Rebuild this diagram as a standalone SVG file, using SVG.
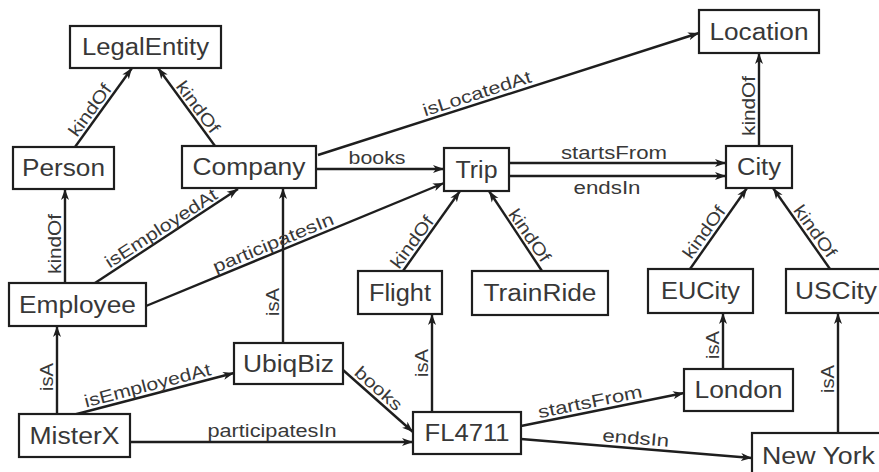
<svg xmlns="http://www.w3.org/2000/svg" width="879" height="472" viewBox="0 0 879 472">
<style>
.n rect{fill:#fff;stroke:#1e1e1e;stroke-width:2.2}
.n text{font-family:"Liberation Sans",Arial,sans-serif;font-size:23px;fill:#383838;text-anchor:middle}
.e path{fill:none;stroke:#1e1e1e;stroke-width:2.4;marker-end:url(#ah)}
.l{font-family:"Liberation Sans",Arial,sans-serif;font-size:17.5px;fill:#383838;text-anchor:middle}
</style>
<defs>
<marker id="ah" markerUnits="userSpaceOnUse" markerWidth="11" markerHeight="9" viewBox="0 0 11 9" refX="11" refY="4.5" orient="auto">
<path d="M0,0.5 L11,4.5 L0,8.5 L3,4.5 z" fill="#1e1e1e"/>
</marker>
</defs>
<rect width="879" height="472" fill="#fff"/>
<g id="connectors" class="e">
<path d="M75,147 L132,68"/>
<path d="M215,146 L158,68"/>
<path d="M65,283 L65,189"/>
<path d="M95,283 L238,189"/>
<path d="M146,306 L444,183"/>
<path d="M316,169 L444,169"/>
<path d="M318,155 L699,33"/>
<path d="M509,163 L726,163"/>
<path d="M509,176 L726,176"/>
<path d="M759,146 L759,53"/>
<path d="M403,271 L460,191"/>
<path d="M542,271 L489,191"/>
<path d="M690,269 L747,188"/>
<path d="M830,269 L773,188"/>
<path d="M283,343 L283,188"/>
<path d="M57,414 L57,326"/>
<path d="M73,415 L234,373"/>
<path d="M130,442 L413,442"/>
<path d="M343,370 L413,432"/>
<path d="M432,412 L432,314"/>
<path d="M521,426 L684,393"/>
<path d="M521,439 L752,458"/>
<path d="M723,369 L723,313"/>
<path d="M838,433 L838,313"/>
</g>
<g id="edge-labels">
<text class="l" transform="translate(98,116) rotate(-53.8)" y="-4" textLength="60" lengthAdjust="spacingAndGlyphs">kindOf</text>
<text class="l" transform="translate(190,113) rotate(53.1)" y="-4" textLength="60" lengthAdjust="spacingAndGlyphs">kindOf</text>
<text class="l" transform="translate(65,244) rotate(-90)" y="-4" textLength="60" lengthAdjust="spacingAndGlyphs">kindOf</text>
<text class="l" transform="translate(166.5,236.5) rotate(-33)" y="-4" textLength="130" lengthAdjust="spacingAndGlyphs">isEmployedAt</text>
<text class="l" transform="translate(277,252) rotate(-22.4)" y="-4" textLength="129" lengthAdjust="spacingAndGlyphs">participatesIn</text>
<text class="l" x="377" y="164" textLength="57" lengthAdjust="spacingAndGlyphs">books</text>
<text class="l" transform="translate(480,103) rotate(-17.8)" y="-4" textLength="113" lengthAdjust="spacingAndGlyphs">isLocatedAt</text>
<text class="l" x="614" y="159" textLength="106" lengthAdjust="spacingAndGlyphs">startsFrom</text>
<text class="l" x="607" y="194" textLength="67" lengthAdjust="spacingAndGlyphs">endsIn</text>
<text class="l" transform="translate(759,106) rotate(-90)" y="-4" textLength="60" lengthAdjust="spacingAndGlyphs">kindOf</text>
<text class="l" transform="translate(420,248) rotate(-53.5)" y="-4" textLength="60" lengthAdjust="spacingAndGlyphs">kindOf</text>
<text class="l" transform="translate(521.5,241) rotate(55.5)" y="-4" textLength="60" lengthAdjust="spacingAndGlyphs">kindOf</text>
<text class="l" transform="translate(712,238) rotate(-54.2)" y="-4" textLength="60" lengthAdjust="spacingAndGlyphs">kindOf</text>
<text class="l" transform="translate(807,237) rotate(54.2)" y="-4" textLength="60" lengthAdjust="spacingAndGlyphs">kindOf</text>
<text class="l" transform="translate(283,302) rotate(-90)" y="-4" textLength="28" lengthAdjust="spacingAndGlyphs">isA</text>
<text class="l" transform="translate(57,377) rotate(-90)" y="-4" textLength="28" lengthAdjust="spacingAndGlyphs">isA</text>
<text class="l" transform="translate(150,395) rotate(-14.6)" y="-4" textLength="130" lengthAdjust="spacingAndGlyphs">isEmployedAt</text>
<text class="l" x="272" y="437" textLength="129" lengthAdjust="spacingAndGlyphs">participatesIn</text>
<text class="l" transform="translate(372,396) rotate(41.5)" y="-4" textLength="57" lengthAdjust="spacingAndGlyphs">books</text>
<text class="l" transform="translate(432,363) rotate(-90)" y="-4" textLength="28" lengthAdjust="spacingAndGlyphs">isA</text>
<text class="l" transform="translate(592,411.6) rotate(-11.4)" y="-4" textLength="106" lengthAdjust="spacingAndGlyphs">startsFrom</text>
<text class="l" transform="translate(635,448) rotate(4.7)" y="-4" textLength="67" lengthAdjust="spacingAndGlyphs">endsIn</text>
<text class="l" transform="translate(723,345) rotate(-90)" y="-4" textLength="28" lengthAdjust="spacingAndGlyphs">isA</text>
<text class="l" transform="translate(838,379) rotate(-90)" y="-4" textLength="28" lengthAdjust="spacingAndGlyphs">isA</text>
</g>
<g id="LegalEntity" class="n"><rect x="70" y="26" width="151" height="42"/><text x="145.5" y="55" textLength="127" lengthAdjust="spacingAndGlyphs">LegalEntity</text></g>
<g id="Person" class="n"><rect x="13" y="147" width="101" height="42"/><text x="63.5" y="176" textLength="83" lengthAdjust="spacingAndGlyphs">Person</text></g>
<g id="Company" class="n"><rect x="182" y="146" width="134" height="42"/><text x="249" y="175" textLength="113" lengthAdjust="spacingAndGlyphs">Company</text></g>
<g id="Location" class="n"><rect x="699" y="10" width="120" height="43"/><text x="759" y="40" textLength="99" lengthAdjust="spacingAndGlyphs">Location</text></g>
<g id="Trip" class="n"><rect x="444" y="148" width="65" height="43"/><text x="476.5" y="178" textLength="42" lengthAdjust="spacingAndGlyphs">Trip</text></g>
<g id="City" class="n"><rect x="726" y="146" width="66" height="42"/><text x="759" y="175" textLength="44" lengthAdjust="spacingAndGlyphs">City</text></g>
<g id="Employee" class="n"><rect x="9" y="283" width="137" height="43"/><text x="77.5" y="313" textLength="117" lengthAdjust="spacingAndGlyphs">Employee</text></g>
<g id="Flight" class="n"><rect x="358" y="271" width="84" height="43"/><text x="400" y="301" textLength="62" lengthAdjust="spacingAndGlyphs">Flight</text></g>
<g id="TrainRide" class="n"><rect x="472" y="271" width="136" height="44"/><text x="540" y="301" textLength="113" lengthAdjust="spacingAndGlyphs">TrainRide</text></g>
<g id="EUCity" class="n"><rect x="648" y="269" width="105" height="44"/><text x="700.5" y="299" textLength="79" lengthAdjust="spacingAndGlyphs">EUCity</text></g>
<g id="USCity" class="n"><rect x="786" y="269" width="100" height="44"/><text x="836" y="299" textLength="82" lengthAdjust="spacingAndGlyphs">USCity</text></g>
<g id="UbiqBiz" class="n"><rect x="234" y="343" width="109" height="41"/><text x="288.5" y="372" textLength="91" lengthAdjust="spacingAndGlyphs">UbiqBiz</text></g>
<g id="MisterX" class="n"><rect x="19" y="414" width="111" height="43"/><text x="74.5" y="444" textLength="90" lengthAdjust="spacingAndGlyphs">MisterX</text></g>
<g id="FL4711" class="n"><rect x="413" y="412" width="108" height="42"/><text x="467" y="441" textLength="85" lengthAdjust="spacingAndGlyphs">FL4711</text></g>
<g id="London" class="n"><rect x="684" y="369" width="109" height="42"/><text x="738.5" y="398" textLength="88" lengthAdjust="spacingAndGlyphs">London</text></g>
<g id="NewYork" class="n"><rect x="752" y="433" width="140" height="50"/><text x="818.5" y="464" textLength="113" lengthAdjust="spacingAndGlyphs">New York</text></g>
</svg>
